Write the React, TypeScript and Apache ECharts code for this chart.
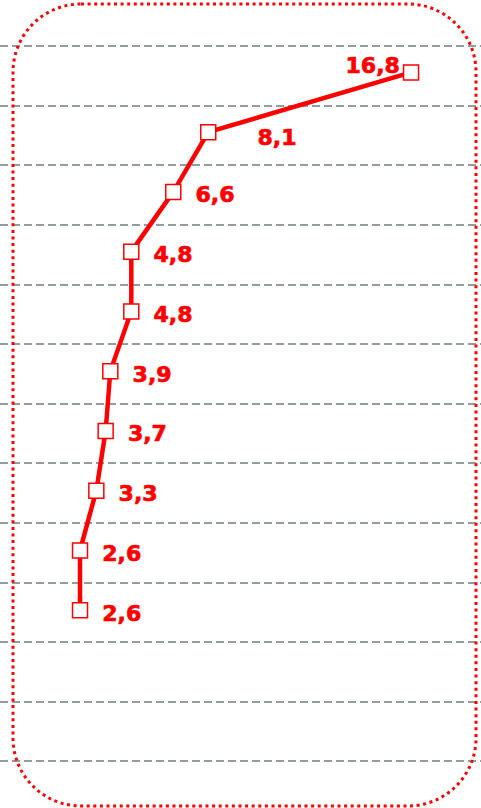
import React, { useEffect, useRef } from "react";
import * as echarts from "echarts";

const categories = ["1", "2", "3", "4", "5", "6", "7", "8", "9", "10", "11", "12"];
const values = [16.8, 8.1, 6.6, 4.8, 4.8, 3.9, 3.7, 3.3, 2.6, 2.6];
const xMin = -0.832;
const xMax = 19.8;

export default function App() {
  const ref = useRef<HTMLDivElement>(null);
  useEffect(() => {
    if (!ref.current) return;
    const chart = echarts.init(ref.current, null, { renderer: "svg" });
    const fmt = (v: number) => v.toFixed(1).replace(".", ",");
    const data = values.map((v, i) => {
      const item: any = { value: [v, categories[i]] };
      if (i === 0) {
        item.label = { position: "left", distance: 3, offset: [0, -7] };
      } else if (i === 1) {
        item.label = { offset: [27, 5] };
      }
      return item;
    });
    chart.setOption({
      animation: false,
      backgroundColor: "#ffffff",
      grid: [
        { left: 0, right: 0, top: 46, bottom: 47, containLabel: false },
        { left: 0, right: 0, top: 42.5, bottom: 48.5, containLabel: false },
      ],
      xAxis: [
        { type: "value", gridIndex: 0, min: xMin, max: xMax, show: false, splitLine: { show: false } },
        { type: "value", gridIndex: 1, min: xMin, max: xMax, show: false, splitLine: { show: false } },
      ],
      yAxis: [
        {
          type: "category",
          gridIndex: 0,
          data: categories,
          inverse: true,
          boundaryGap: true,
          axisLine: { show: false },
          axisTick: { show: false },
          axisLabel: { show: false },
          splitLine: {
            show: true,
            lineStyle: { color: "#939c9e", width: 2, type: [8, 4] },
          },
        },
        {
          type: "category",
          gridIndex: 1,
          data: categories,
          inverse: true,
          boundaryGap: true,
          show: false,
          splitLine: { show: false },
        },
      ],
      graphic: [
        {
          type: "rect",
          shape: { x: 13, y: 4, width: 463, height: 802, r: 68 },
          style: {
            fill: "none",
            stroke: "#ff0000",
            lineWidth: 3,
            lineDash: [3, 3.6],
          },
          z: 10,
        },
      ],
      series: [
        {
          type: "line",
          xAxisIndex: 1,
          yAxisIndex: 1,
          data,
          symbol: "rect",
          symbolSize: 15,
          lineStyle: { color: "#ff0000", width: 4.5 },
          itemStyle: { color: "#ffffff", borderColor: "#ff0000", borderWidth: 1.5 },
          label: {
            show: true,
            position: "right",
            distance: 14,
            offset: [0, 3],
            formatter: (p: any) => fmt(p.value[0]),
            color: "#ff0000",
            fontFamily: "DejaVu Sans",
            fontWeight: "bold",
            fontSize: 22,
            textBorderColor: "#ff0000",
            textBorderWidth: 0.7,
          },
          z: 5,
        },
      ],
    });
    return () => chart.dispose();
  }, []);
  return (
    <div
      ref={ref}
      style={{ position: "absolute", left: 0, top: 0, width: 481, height: 808, background: "#fff" }}
    />
  );
}
